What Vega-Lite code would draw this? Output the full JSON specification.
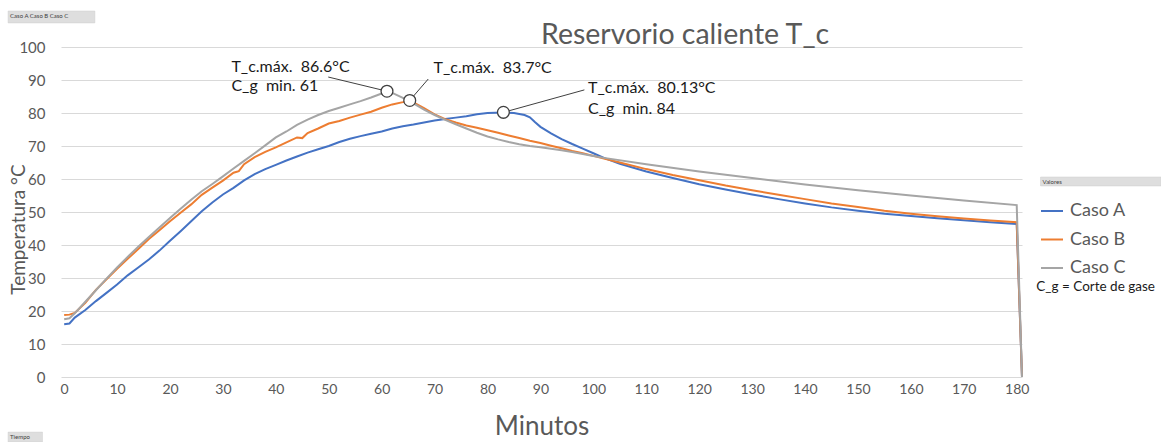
{
  "$schema": "https://vega.github.io/schema/vega-lite/v6.json",
  "width": 961,
  "height": 330,
  "autosize": {"type": "none"},
  "padding": {"left": 61, "top": 47, "right": 139, "bottom": 65},
  "background": "white",
  "config": {
    "view": {"stroke": null},
    "font": "Lato",
    "axis": {"labelFont": "Lato", "titleFont": "Lato"}
  },
  "datasets": {
    "series": [
      {"min": 0, "temp": 16.0, "caso": "Caso A"},
      {"min": 1, "temp": 16.2, "caso": "Caso A"},
      {"min": 2, "temp": 18.0, "caso": "Caso A"},
      {"min": 4, "temp": 20.3, "caso": "Caso A"},
      {"min": 6, "temp": 23.0, "caso": "Caso A"},
      {"min": 8, "temp": 25.5, "caso": "Caso A"},
      {"min": 10, "temp": 28.0, "caso": "Caso A"},
      {"min": 12, "temp": 30.8, "caso": "Caso A"},
      {"min": 14, "temp": 33.2, "caso": "Caso A"},
      {"min": 16, "temp": 35.6, "caso": "Caso A"},
      {"min": 18, "temp": 38.3, "caso": "Caso A"},
      {"min": 20, "temp": 41.3, "caso": "Caso A"},
      {"min": 22, "temp": 44.2, "caso": "Caso A"},
      {"min": 24, "temp": 47.2, "caso": "Caso A"},
      {"min": 26, "temp": 50.2, "caso": "Caso A"},
      {"min": 28, "temp": 52.9, "caso": "Caso A"},
      {"min": 30, "temp": 55.3, "caso": "Caso A"},
      {"min": 32, "temp": 57.3, "caso": "Caso A"},
      {"min": 34, "temp": 59.6, "caso": "Caso A"},
      {"min": 36, "temp": 61.5, "caso": "Caso A"},
      {"min": 38, "temp": 63.0, "caso": "Caso A"},
      {"min": 40, "temp": 64.3, "caso": "Caso A"},
      {"min": 42, "temp": 65.6, "caso": "Caso A"},
      {"min": 44, "temp": 66.8, "caso": "Caso A"},
      {"min": 46, "temp": 68.0, "caso": "Caso A"},
      {"min": 48, "temp": 69.0, "caso": "Caso A"},
      {"min": 50, "temp": 70.0, "caso": "Caso A"},
      {"min": 52, "temp": 71.2, "caso": "Caso A"},
      {"min": 54, "temp": 72.2, "caso": "Caso A"},
      {"min": 56, "temp": 73.0, "caso": "Caso A"},
      {"min": 58, "temp": 73.7, "caso": "Caso A"},
      {"min": 60, "temp": 74.4, "caso": "Caso A"},
      {"min": 62, "temp": 75.3, "caso": "Caso A"},
      {"min": 64, "temp": 76.0, "caso": "Caso A"},
      {"min": 66, "temp": 76.5, "caso": "Caso A"},
      {"min": 68, "temp": 77.1, "caso": "Caso A"},
      {"min": 70, "temp": 77.7, "caso": "Caso A"},
      {"min": 72, "temp": 78.2, "caso": "Caso A"},
      {"min": 74, "temp": 78.6, "caso": "Caso A"},
      {"min": 76, "temp": 79.0, "caso": "Caso A"},
      {"min": 78, "temp": 79.6, "caso": "Caso A"},
      {"min": 80, "temp": 80.0, "caso": "Caso A"},
      {"min": 83, "temp": 80.13, "caso": "Caso A"},
      {"min": 85, "temp": 80.0, "caso": "Caso A"},
      {"min": 87, "temp": 79.4, "caso": "Caso A"},
      {"min": 88, "temp": 78.7, "caso": "Caso A"},
      {"min": 89, "temp": 77.2, "caso": "Caso A"},
      {"min": 90, "temp": 75.8, "caso": "Caso A"},
      {"min": 92, "temp": 73.8, "caso": "Caso A"},
      {"min": 94, "temp": 72.1, "caso": "Caso A"},
      {"min": 96, "temp": 70.6, "caso": "Caso A"},
      {"min": 98, "temp": 69.2, "caso": "Caso A"},
      {"min": 100, "temp": 67.8, "caso": "Caso A"},
      {"min": 102, "temp": 66.4, "caso": "Caso A"},
      {"min": 105, "temp": 64.6, "caso": "Caso A"},
      {"min": 110, "temp": 62.3, "caso": "Caso A"},
      {"min": 115, "temp": 60.3, "caso": "Caso A"},
      {"min": 120, "temp": 58.4, "caso": "Caso A"},
      {"min": 125, "temp": 56.8, "caso": "Caso A"},
      {"min": 130, "temp": 55.3, "caso": "Caso A"},
      {"min": 135, "temp": 53.9, "caso": "Caso A"},
      {"min": 140, "temp": 52.6, "caso": "Caso A"},
      {"min": 145, "temp": 51.4, "caso": "Caso A"},
      {"min": 150, "temp": 50.4, "caso": "Caso A"},
      {"min": 155, "temp": 49.5, "caso": "Caso A"},
      {"min": 160, "temp": 48.8, "caso": "Caso A"},
      {"min": 165, "temp": 48.1, "caso": "Caso A"},
      {"min": 170, "temp": 47.5, "caso": "Caso A"},
      {"min": 175, "temp": 46.9, "caso": "Caso A"},
      {"min": 180, "temp": 46.4, "caso": "Caso A"},
      {"min": 181, "temp": 0, "caso": "Caso A"},

      {"min": 0, "temp": 18.8, "caso": "Caso B"},
      {"min": 1, "temp": 18.9, "caso": "Caso B"},
      {"min": 2, "temp": 19.4, "caso": "Caso B"},
      {"min": 4, "temp": 22.5, "caso": "Caso B"},
      {"min": 6, "temp": 26.4, "caso": "Caso B"},
      {"min": 8, "temp": 29.6, "caso": "Caso B"},
      {"min": 10, "temp": 32.8, "caso": "Caso B"},
      {"min": 12, "temp": 35.8, "caso": "Caso B"},
      {"min": 14, "temp": 38.8, "caso": "Caso B"},
      {"min": 16, "temp": 41.8, "caso": "Caso B"},
      {"min": 18, "temp": 44.5, "caso": "Caso B"},
      {"min": 20, "temp": 47.2, "caso": "Caso B"},
      {"min": 22, "temp": 49.8, "caso": "Caso B"},
      {"min": 24, "temp": 52.3, "caso": "Caso B"},
      {"min": 26, "temp": 55.2, "caso": "Caso B"},
      {"min": 28, "temp": 57.4, "caso": "Caso B"},
      {"min": 30, "temp": 59.5, "caso": "Caso B"},
      {"min": 32, "temp": 61.9, "caso": "Caso B"},
      {"min": 33, "temp": 62.4, "caso": "Caso B"},
      {"min": 34, "temp": 64.5, "caso": "Caso B"},
      {"min": 36, "temp": 66.6, "caso": "Caso B"},
      {"min": 38, "temp": 68.2, "caso": "Caso B"},
      {"min": 40, "temp": 69.6, "caso": "Caso B"},
      {"min": 42, "temp": 71.1, "caso": "Caso B"},
      {"min": 44, "temp": 72.6, "caso": "Caso B"},
      {"min": 45, "temp": 72.4, "caso": "Caso B"},
      {"min": 46, "temp": 73.9, "caso": "Caso B"},
      {"min": 48, "temp": 75.3, "caso": "Caso B"},
      {"min": 50, "temp": 76.8, "caso": "Caso B"},
      {"min": 52, "temp": 77.6, "caso": "Caso B"},
      {"min": 54, "temp": 78.6, "caso": "Caso B"},
      {"min": 56, "temp": 79.5, "caso": "Caso B"},
      {"min": 58, "temp": 80.4, "caso": "Caso B"},
      {"min": 60, "temp": 81.6, "caso": "Caso B"},
      {"min": 62, "temp": 82.6, "caso": "Caso B"},
      {"min": 64, "temp": 83.3, "caso": "Caso B"},
      {"min": 65, "temp": 83.7, "caso": "Caso B"},
      {"min": 66, "temp": 83.2, "caso": "Caso B"},
      {"min": 68, "temp": 81.5, "caso": "Caso B"},
      {"min": 70, "temp": 79.6, "caso": "Caso B"},
      {"min": 72, "temp": 78.1, "caso": "Caso B"},
      {"min": 74, "temp": 77.1, "caso": "Caso B"},
      {"min": 76, "temp": 76.2, "caso": "Caso B"},
      {"min": 78, "temp": 75.5, "caso": "Caso B"},
      {"min": 80, "temp": 74.8, "caso": "Caso B"},
      {"min": 82, "temp": 74.0, "caso": "Caso B"},
      {"min": 84, "temp": 73.2, "caso": "Caso B"},
      {"min": 86, "temp": 72.4, "caso": "Caso B"},
      {"min": 88, "temp": 71.6, "caso": "Caso B"},
      {"min": 90, "temp": 70.9, "caso": "Caso B"},
      {"min": 92, "temp": 70.1, "caso": "Caso B"},
      {"min": 94, "temp": 69.3, "caso": "Caso B"},
      {"min": 96, "temp": 68.5, "caso": "Caso B"},
      {"min": 98, "temp": 67.8, "caso": "Caso B"},
      {"min": 100, "temp": 67.0, "caso": "Caso B"},
      {"min": 102, "temp": 66.2, "caso": "Caso B"},
      {"min": 105, "temp": 65.0, "caso": "Caso B"},
      {"min": 110, "temp": 63.0, "caso": "Caso B"},
      {"min": 115, "temp": 61.2, "caso": "Caso B"},
      {"min": 120, "temp": 59.6, "caso": "Caso B"},
      {"min": 125, "temp": 58.0, "caso": "Caso B"},
      {"min": 130, "temp": 56.6, "caso": "Caso B"},
      {"min": 135, "temp": 55.2, "caso": "Caso B"},
      {"min": 140, "temp": 53.9, "caso": "Caso B"},
      {"min": 145, "temp": 52.6, "caso": "Caso B"},
      {"min": 150, "temp": 51.5, "caso": "Caso B"},
      {"min": 155, "temp": 50.4, "caso": "Caso B"},
      {"min": 160, "temp": 49.5, "caso": "Caso B"},
      {"min": 165, "temp": 48.7, "caso": "Caso B"},
      {"min": 170, "temp": 48.0, "caso": "Caso B"},
      {"min": 175, "temp": 47.4, "caso": "Caso B"},
      {"min": 180, "temp": 46.9, "caso": "Caso B"},
      {"min": 181, "temp": 0, "caso": "Caso B"},

      {"min": 0, "temp": 17.5, "caso": "Caso C"},
      {"min": 1, "temp": 17.8, "caso": "Caso C"},
      {"min": 2, "temp": 19.3, "caso": "Caso C"},
      {"min": 4, "temp": 22.8, "caso": "Caso C"},
      {"min": 6, "temp": 26.3, "caso": "Caso C"},
      {"min": 8, "temp": 29.8, "caso": "Caso C"},
      {"min": 10, "temp": 33.2, "caso": "Caso C"},
      {"min": 12, "temp": 36.4, "caso": "Caso C"},
      {"min": 14, "temp": 39.5, "caso": "Caso C"},
      {"min": 16, "temp": 42.4, "caso": "Caso C"},
      {"min": 18, "temp": 45.3, "caso": "Caso C"},
      {"min": 20, "temp": 48.2, "caso": "Caso C"},
      {"min": 22, "temp": 51.0, "caso": "Caso C"},
      {"min": 24, "temp": 53.7, "caso": "Caso C"},
      {"min": 26, "temp": 56.3, "caso": "Caso C"},
      {"min": 28, "temp": 58.5, "caso": "Caso C"},
      {"min": 30, "temp": 60.8, "caso": "Caso C"},
      {"min": 32, "temp": 63.2, "caso": "Caso C"},
      {"min": 34, "temp": 65.5, "caso": "Caso C"},
      {"min": 36, "temp": 67.8, "caso": "Caso C"},
      {"min": 38, "temp": 70.2, "caso": "Caso C"},
      {"min": 40, "temp": 72.6, "caso": "Caso C"},
      {"min": 42, "temp": 74.4, "caso": "Caso C"},
      {"min": 44, "temp": 76.4, "caso": "Caso C"},
      {"min": 46, "temp": 78.0, "caso": "Caso C"},
      {"min": 48, "temp": 79.4, "caso": "Caso C"},
      {"min": 50, "temp": 80.6, "caso": "Caso C"},
      {"min": 52, "temp": 81.6, "caso": "Caso C"},
      {"min": 54, "temp": 82.6, "caso": "Caso C"},
      {"min": 56, "temp": 83.6, "caso": "Caso C"},
      {"min": 58, "temp": 84.7, "caso": "Caso C"},
      {"min": 60, "temp": 85.9, "caso": "Caso C"},
      {"min": 61, "temp": 86.6, "caso": "Caso C"},
      {"min": 62, "temp": 86.1, "caso": "Caso C"},
      {"min": 64, "temp": 84.6, "caso": "Caso C"},
      {"min": 66, "temp": 82.9, "caso": "Caso C"},
      {"min": 68, "temp": 81.0, "caso": "Caso C"},
      {"min": 70, "temp": 79.4, "caso": "Caso C"},
      {"min": 72, "temp": 77.9, "caso": "Caso C"},
      {"min": 74, "temp": 76.6, "caso": "Caso C"},
      {"min": 76, "temp": 75.3, "caso": "Caso C"},
      {"min": 78, "temp": 74.0, "caso": "Caso C"},
      {"min": 80, "temp": 72.9, "caso": "Caso C"},
      {"min": 82, "temp": 72.0, "caso": "Caso C"},
      {"min": 84, "temp": 71.2, "caso": "Caso C"},
      {"min": 86, "temp": 70.5, "caso": "Caso C"},
      {"min": 88, "temp": 70.0, "caso": "Caso C"},
      {"min": 90, "temp": 69.6, "caso": "Caso C"},
      {"min": 92, "temp": 69.2, "caso": "Caso C"},
      {"min": 94, "temp": 68.7, "caso": "Caso C"},
      {"min": 96, "temp": 68.2, "caso": "Caso C"},
      {"min": 98, "temp": 67.6, "caso": "Caso C"},
      {"min": 100, "temp": 67.0, "caso": "Caso C"},
      {"min": 102, "temp": 66.4, "caso": "Caso C"},
      {"min": 110, "temp": 64.5, "caso": "Caso C"},
      {"min": 120, "temp": 62.3, "caso": "Caso C"},
      {"min": 130, "temp": 60.3, "caso": "Caso C"},
      {"min": 140, "temp": 58.3, "caso": "Caso C"},
      {"min": 150, "temp": 56.6, "caso": "Caso C"},
      {"min": 160, "temp": 55.0, "caso": "Caso C"},
      {"min": 170, "temp": 53.5, "caso": "Caso C"},
      {"min": 180, "temp": 52.1, "caso": "Caso C"},
      {"min": 181, "temp": 0, "caso": "Caso C"}
    ],
    "peaks": [
      {"min": 61, "temp": 86.6, "lx": 49.9, "ly": 90.9},
      {"min": 65.3, "temp": 83.8, "lx": 68.8, "ly": 90.3},
      {"min": 83, "temp": 80.2, "lx": 98.3, "ly": 87.0}
    ],
    "labels": [
      {"min": 31.6, "temp": 93.9, "txt": "T_c.máx.\u00a0 86.6°C"},
      {"min": 31.6, "temp": 88.2, "txt": "C_g\u00a0 min. 61"},
      {"min": 69.8, "temp": 93.6, "txt": "T_c.máx.\u00a0 83.7°C"},
      {"min": 99.0, "temp": 87.6, "txt": "T_c.máx.\u00a0 80.13°C"},
      {"min": 99.0, "temp": 81.2, "txt": "C_g\u00a0 min. 84"}
    ],
    "notes": [
      {"min": 183.7, "temp": 27.3, "txt": "C_g = Corte de gase"}
    ],
    "heading": [
      {"min": 90.1, "temp": 100.9, "txt": "Reservorio caliente T_c"}
    ],
    "buttons": [
      {"x1": -10.6, "x2": 5.8, "y1": 110.9, "y2": 107.3, "txt": "Caso A   Caso B   Caso C"},
      {"x1": -10.6, "x2": -4.1, "y1": -16.7, "y2": -19.7, "txt": "Tiempo"},
      {"x1": 184.5, "x2": 207.3, "y1": 60.6, "y2": 57.9, "txt": "Valores"}
    ]
  },
  "layer": [
    {
      "data": {"name": "series"},
      "mark": {"type": "line", "strokeWidth": 2, "clip": false},
      "encoding": {
        "x": {
          "field": "min",
          "type": "quantitative",
          "scale": {"domain": [-0.6, 181], "nice": false, "zero": false},
          "axis": {
            "values": [0, 10, 20, 30, 40, 50, 60, 70, 80, 90, 100, 110, 120, 130, 140, 150, 160, 170, 180],
            "grid": false,
            "domain": false,
            "ticks": false,
            "labelFontSize": 14,
            "labelColor": "#595959",
            "labelPadding": 5,
            "title": "Minutos",
            "titleFontSize": 26,
            "titleFontWeight": "normal",
            "titleColor": "#595959",
            "titlePadding": 17
          }
        },
        "y": {
          "field": "temp",
          "type": "quantitative",
          "scale": {"domain": [0, 100], "nice": false},
          "axis": {
            "values": [0, 10, 20, 30, 40, 50, 60, 70, 80, 90, 100],
            "tickCount": 11,
            "labelOverlap": false,
            "grid": true,
            "gridColor": "#d9d9d9",
            "gridWidth": 1,
            "domain": false,
            "ticks": false,
            "labelFontSize": 15,
            "labelColor": "#595959",
            "labelPadding": 16,
            "title": "Temperatura °C",
            "titleFontSize": 19,
            "titleFontWeight": "normal",
            "titleColor": "#595959",
            "titleAngle": -90,
            "titleX": -43,
            "titleY": 182,
            "titleAlign": "center",
            "titleBaseline": "middle"
          }
        },
        "color": {
          "field": "caso",
          "type": "nominal",
          "scale": {"domain": ["Caso A", "Caso B", "Caso C"], "range": ["#4472C4", "#ED7D31", "#A5A5A5"]},
          "legend": {
            "title": null,
            "orient": "none",
            "legendX": 979,
            "legendY": 152,
            "symbolType": "stroke",
            "symbolSize": 484,
            "symbolStrokeWidth": 2,
            "labelFontSize": 18,
            "labelColor": "#595959",
            "labelOffset": 6,
            "rowPadding": 7.5
          }
        },
        "detail": {"field": "caso"}
      }
    },
    {
      "data": {"name": "peaks"},
      "mark": {"type": "rule", "color": "#404040", "strokeWidth": 1},
      "encoding": {
        "x": {"field": "lx", "type": "quantitative"},
        "y": {"field": "ly", "type": "quantitative"},
        "x2": {"field": "min"},
        "y2": {"field": "temp"}
      }
    },
    {
      "data": {"name": "peaks"},
      "mark": {"type": "point", "shape": "circle", "filled": true, "fill": "white", "stroke": "#404040", "strokeWidth": 1.3, "size": 140, "opacity": 1},
      "encoding": {
        "x": {"field": "min", "type": "quantitative"},
        "y": {"field": "temp", "type": "quantitative"}
      }
    },
    {
      "data": {"name": "labels"},
      "mark": {"type": "text", "align": "left", "baseline": "middle", "fontSize": 16, "color": "#1a1a1a"},
      "encoding": {
        "x": {"field": "min", "type": "quantitative"},
        "y": {"field": "temp", "type": "quantitative"},
        "text": {"field": "txt"}
      }
    },
    {
      "data": {"name": "notes"},
      "mark": {"type": "text", "align": "left", "baseline": "middle", "fontSize": 13.5, "color": "#1a1a1a"},
      "encoding": {
        "x": {"field": "min", "type": "quantitative"},
        "y": {"field": "temp", "type": "quantitative"},
        "text": {"field": "txt"}
      }
    },
    {
      "data": {"name": "heading"},
      "mark": {"type": "text", "align": "left", "baseline": "alphabetic", "fontSize": 28.5, "color": "#595959"},
      "encoding": {
        "x": {"field": "min", "type": "quantitative"},
        "y": {"field": "temp", "type": "quantitative"},
        "text": {"field": "txt"}
      }
    },
    {
      "data": {"name": "buttons"},
      "mark": {"type": "rect", "fill": "#dedede", "stroke": "#cfcfcf", "strokeWidth": 0.5},
      "encoding": {
        "x": {"field": "x1", "type": "quantitative"},
        "x2": {"field": "x2"},
        "y": {"field": "y1", "type": "quantitative"},
        "y2": {"field": "y2"}
      }
    },
    {
      "data": {"name": "buttons"},
      "mark": {"type": "text", "align": "left", "baseline": "middle", "fontSize": 6, "color": "#404040", "dx": 2, "dy": 5},
      "encoding": {
        "x": {"field": "x1", "type": "quantitative"},
        "y": {"field": "y1", "type": "quantitative"},
        "text": {"field": "txt"}
      }
    }
  ]
}
